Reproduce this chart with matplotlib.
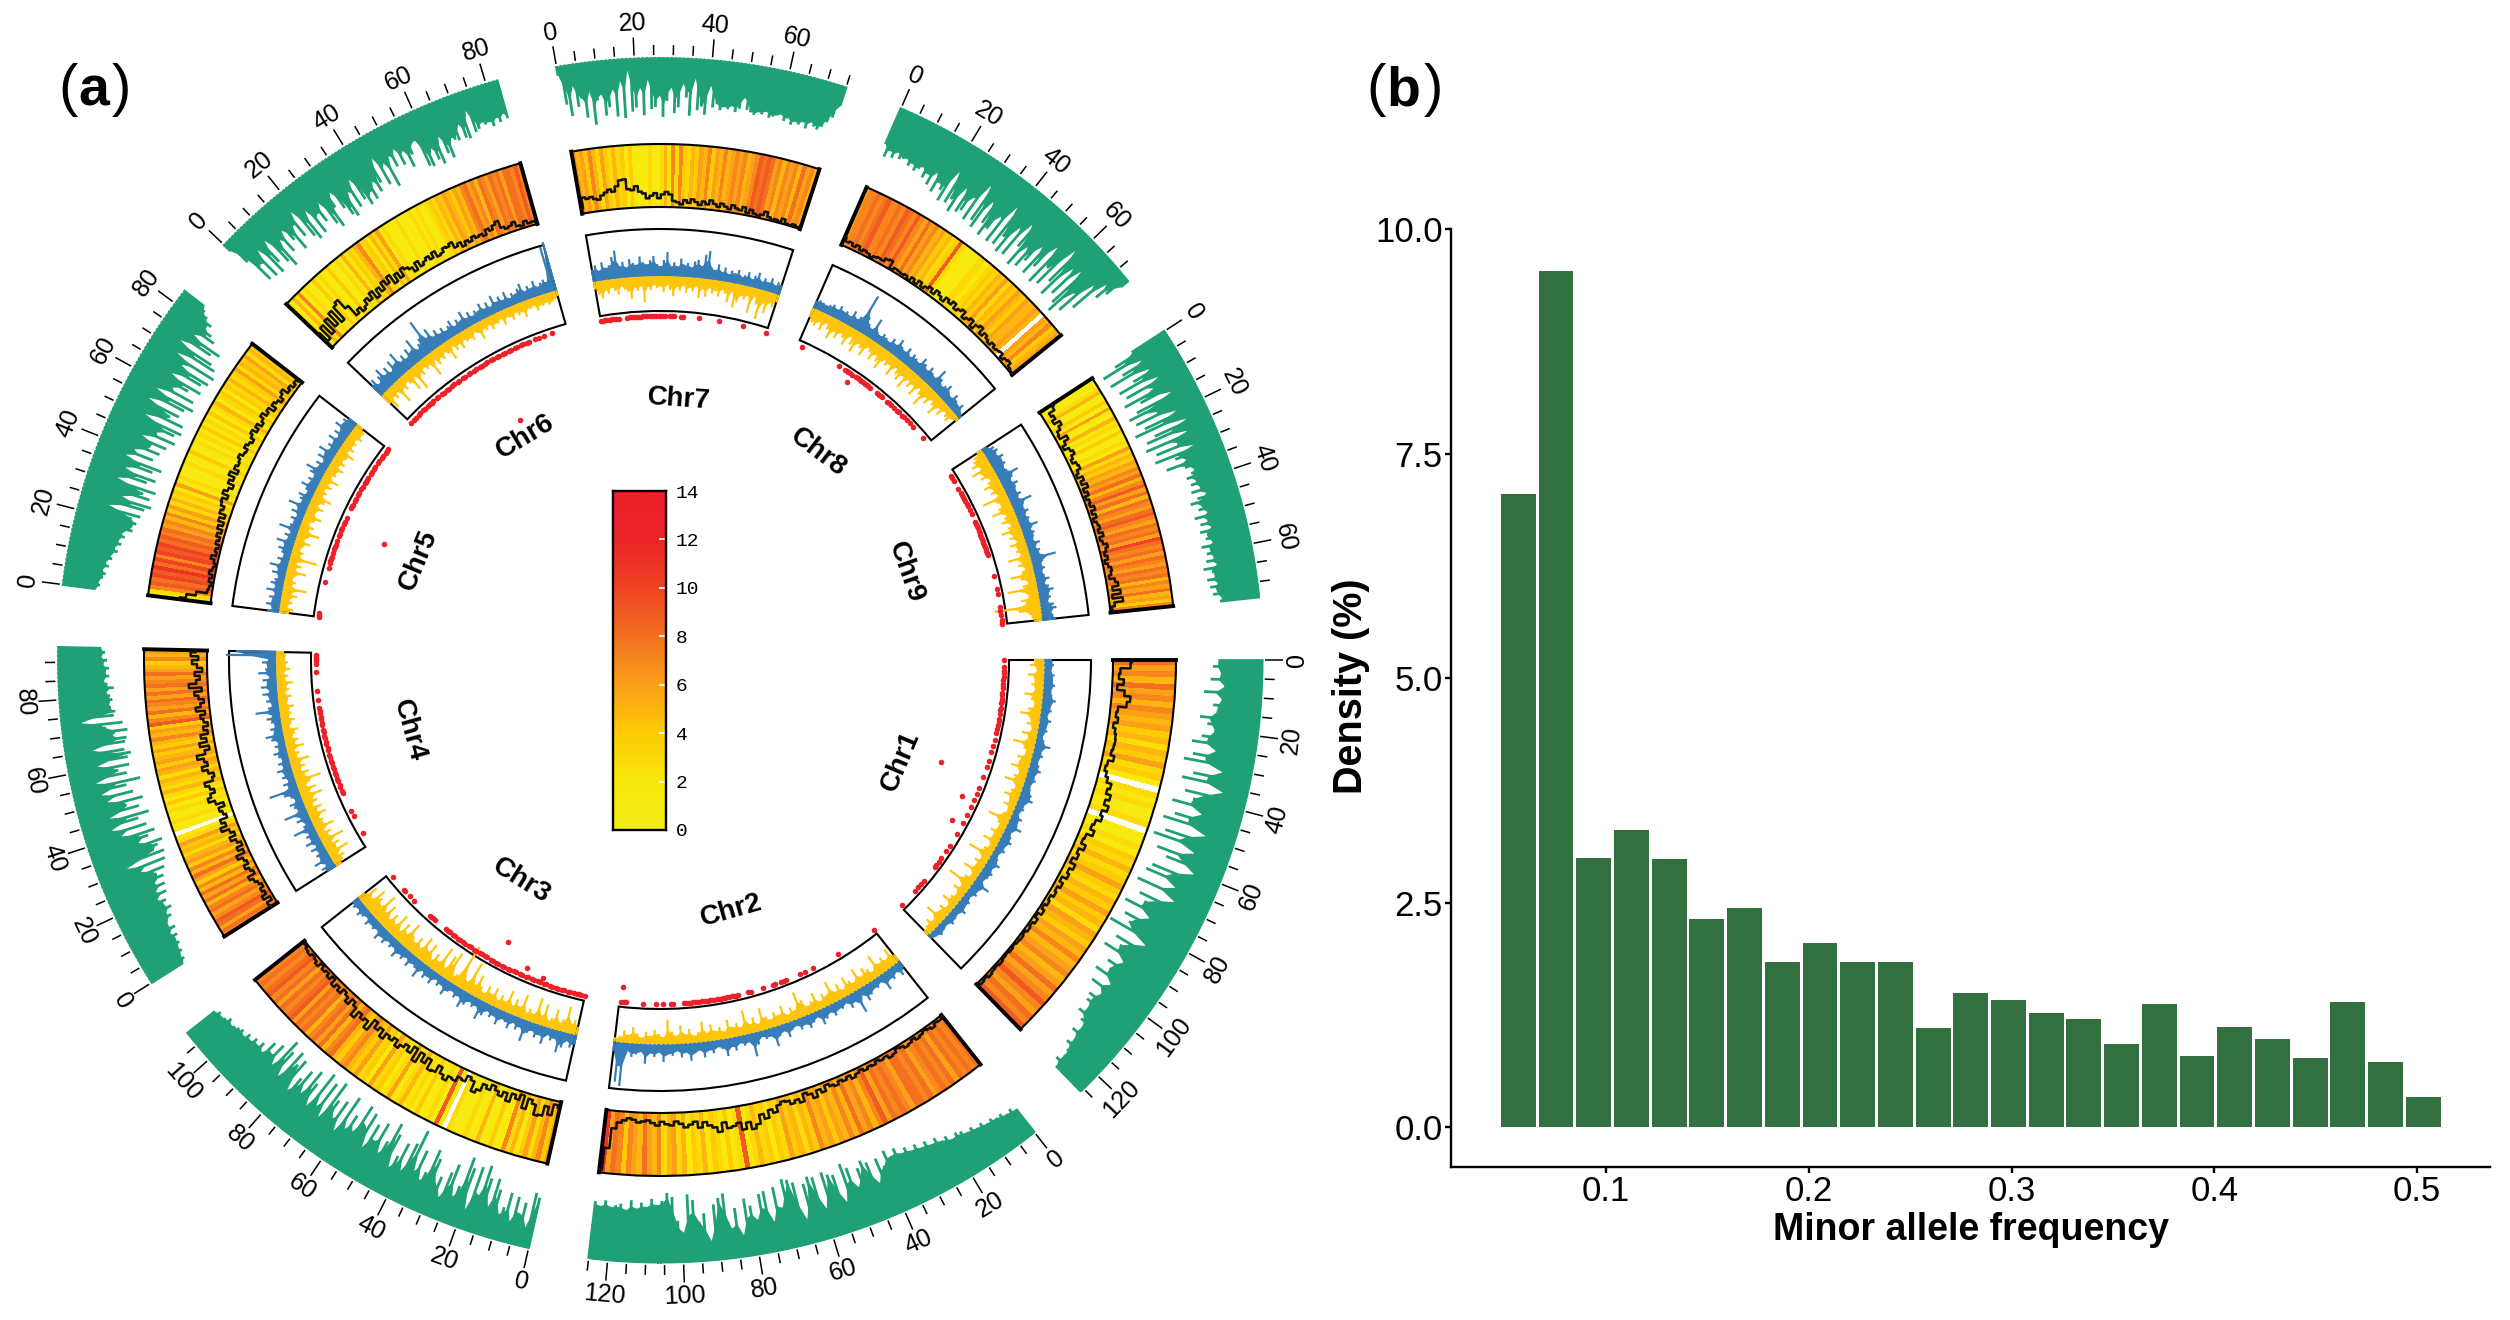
#!/usr/bin/env python3

import numpy as np
import matplotlib
matplotlib.use('Agg')
import matplotlib.pyplot as plt
from matplotlib.colors import LinearSegmentedColormap

plt.rcParams['font.family'] = ['Liberation Sans', 'DejaVu Sans']
nan = float('nan')

# panel (a): chromosomes, start / end angle (deg clockwise from 3 o'clock), length in Mb
chroms = ['Chr1', 'Chr2', 'Chr3', 'Chr4', 'Chr5', 'Chr6', 'Chr7', 'Chr8', 'Chr9']
start_deg = [0.0, 51.6, 102.6, 147.6, 187.2, 223.6, 260.1, 293.6, 326.9]
end_deg = [45.7, 96.8, 141.7, 181.2, 217.8, 254.3, 288.0, 321.0, 354.0]
chrom_len = [126, 125, 109, 94, 84, 83, 75, 74, 74]

# outer green track, depth of each window
green = [
    [45,50,42,52,38,58,40,48,44,60,52,44,56,65,40,62,70,30,58,68,25,62,52,72,40,66,76,30,70,80,35,72,60,28,70,74,40,78,35,70,62,80,50,74,66,84,40,70,62,76,50,64,58,70,48,66,50,60,58,52,58,50,44,50,42,46,40,38,42,36],
    [30,34,32,36,35,38,36,40,38,42,40,44,46,42,48,46,52,48,54,50,56,52,58,54,62,56,64,50,60,36,60,64,58,40,62,68,30,60,62,66,30,64,66,60,25,64,68,70,42,64,30,62,60,35,50,58,22,50,30,66,62,56,20,48,40,62,68,30,42,66,70,62,58,64,56,60,54,62,52,58,56,54,60,54,58],
    [52,56,20,44,32,48,22,50,34,26,50,60,30,58,70,38,66,20,62,72,40,28,60,50,22,42,34,58,66,40,30,60,36,78,62,30,58,42,28,62,72,50,35,66,44,60,32,68,52,72,40,56,38,72,30,62,40,58,76,32,70,40,76,34,58,70,40,64,52,34,68,60,72,38,66,76,42,64,50,60,44,52,46,50,44,48,42,46,44,42,40,44,40,38,40,36],
    [38,42,40,44,42,46,44,48,42,50,44,46,52,48,56,50,54,46,58,48,60,50,62,56,66,42,70,30,72,62,68,74,50,62,70,36,64,28,58,70,30,62,50,68,32,60,28,55,70,25,58,50,62,30,62,66,60,28,62,64,50,66,45,62,20,54,56,52,50,54,52,48,56,50,46,52,48,52,46,50,44,48,44],
    [34,38,36,40,42,38,44,40,46,44,50,46,52,48,54,50,60,58,62,56,64,30,66,72,40,68,60,72,30,60,68,34,62,70,30,58,36,62,50,66,38,72,50,68,74,32,72,56,64,28,66,74,30,70,44,60,72,36,68,74,40,76,30,72,66,26,60,68,34,56,50,40,44,36,30,26],
    [10,30,58,40,60,28,62,52,26,58,66,36,54,30,46,60,34,50,22,56,62,30,60,40,52,32,60,66,46,30,52,62,66,40,60,30,56,64,52,62,44,58,50,24,56,34,62,30,44,26,46,32,52,40,30,28,58,60,42,56,62,34,54,60,40,44,46,30,46,48,20,44,42,36,40,38,44,36,42,34,40],
    [10,40,52,22,44,36,56,30,64,40,34,56,48,30,58,22,60,12,54,50,30,58,22,52,50,38,60,44,30,56,50,26,40,58,20,52,48,56,26,48,44,50,46,48,44,50,46,34,46,48,50,46,48,44,50,48,46,44,50,46,52,48,50,46,52,44,48,50,46,40,34,20],
    [40,52,44,50,42,48,46,44,50,46,52,48,44,54,48,58,42,62,50,56,66,30,64,58,70,40,66,62,44,68,24,64,70,36,60,72,62,44,72,26,70,58,74,40,72,30,56,76,50,72,62,40,72,60,30,74,52,70,20,60,74,34,66,30,72,80,50,72,30,60,20,36,26,10],
    [40,62,78,36,60,76,34,54,72,30,68,40,74,58,26,66,76,48,72,30,66,78,24,60,70,28,74,42,66,28,70,50,40,62,44,36,40,46,38,44,36,46,32,42,50,40,44,36,50,38,46,36,48,42,44,38,50,42,46,40,48,38,52,44,42,50,40,48,42,46,38,40],
]

# heat track, value of each window on the 0-14 scale
heat = [
    [8,6,7,5,8,6,7,5,7,6,5,6,4,5,3,5,4,6,3,4,2,nan,3,2,3,1,2,3,nan,2,1,3,2,4,3,5,3,4,6,4,3,5,4,6,4,5,3,6,5,4,6,5,7,5,6,7,5,6,8,6,7,9,7,6,8,7,9],
    [8,7,8,7,8,6,8,7,8,7,6,8,7,8,8,6,7,8,7,8,6,9,7,5,7,6,8,5,7,5,6,4,6,5,7,4,5,3,5,4,6,3,4,2,4,3,5,3,2,9,3,2,4,2,3,4,2,5,3,4,2,5,3,6,5,3,7,5,6,8,5,6,7,4,7,8,6,11],
    [6,4,7,5,3,6,4,2,5,3,7,2,1,4,2,1,5,2,1,3,1,2,1,3,nan,2,9,1,3,2,1,4,2,3,2,5,3,2,6,3,2,4,3,6,2,4,3,6,4,5,7,6,4,5,8,7,5,8,6,8,7,5,8,7,8,6,9,8,7,8,6,8,7,9,8,7,8,7],
    [7,8,6,8,9,7,6,8,7,5,8,6,8,5,7,4,6,8,5,7,4,6,5,3,5,4,6,3,2,nan,2,1,3,2,2,3,2,4,2,3,5,3,4,5,3,5,6,4,6,5,4,6,4,5,7,5,6,4,9,7,5,8,6,7,8,6,8,6,8,7,6,8,6,5,4,7,5,6],
    [2,3,7,9,8,10,9,11,8,10,7,10,9,10,8,9,7,8,6,7,5,7,4,6,3,5,3,4,2,6,2,3,1,2,1,3,1,2,4,1,2,3,1,3,2,4,2,3,1,4,2,3,5,2,3,4,2,4,3,5,3,4,6,3,5,4,6,3,5,4],
    [3,1,5,2,7,1,3,2,1,4,1,3,2,1,4,2,1,3,1,5,2,4,3,5,7,3,4,2,5,3,6,2,3,1,2,1,3,1,2,1,3,2,3,1,2,3,4,3,5,4,6,5,4,6,5,7,8,6,7,5,8,7,6,8,7,8,6,8,8,7,9,7],
    [7,5,6,4,7,5,3,6,4,3,5,3,4,2,4,2,1,2,1,3,2,1,3,5,2,7,3,7,4,3,5,4,6,5,7,4,6,5,7,5,6,7,6,7,5,6,7,9,8,9,8,6,7,5,7,6,7,5,8,6,7,5],
    [6,7,7,8,7,8,9,7,7,8,7,9,8,7,9,7,6,8,6,7,5,6,4,5,3,4,9,3,2,1,2,1,3,3,2,3,4,3,5,4,6,3,5,4,6,5,4,6,5,5,6,5,nan,6,5,7,4,5,6],
    [1,2,1,3,5,1,2,4,1,6,2,1,5,2,3,1,4,2,1,3,2,6,3,5,4,6,5,7,6,8,5,7,9,6,8,5,8,7,6,8,9,7,6,8,7,8,6,10,8,7,8,6,8,7,6,8,7,8,5,7,6,8,5,6,4,7],
]

# black line over the heat track, percent of track height
heat_line = [
    [30,28,12,10,18,8,20,30,25,12,10,14,8,12,14,15,14,12,18,10,8,12,16,24,20,28,22,30,22,26,18,15,22,12,10,18,10,14,7,16,10,14,6,12,7,10,5,8,4,9,3,8,4,6,3,5,4,2,4,2,3,5,3,4,6,3,5,3],
    [3,5,4,8,5,3,6,8,4,7,9,5,3,8,10,5,7,4,8,6,9,5,8,12,6,10,7,12,9,5,14,8,18,10,6,18,12,16,10,8,12,22,16,28,20,34,40,28,38,26,30,32,22,36,28,24,18,26,16,20,24,18,14,20,18,14,20,16,12,14,16,12,10,14,18,28,60,95],
    [10,6,24,12,28,30,14,8,25,5,14,8,22,10,18,12,6,15,10,22,28,12,8,18,16,24,22,30,24,14,26,28,12,22,10,28,8,20,12,18,24,14,20,16,26,14,20,10,30,18,22,16,28,14,8,18,10,6,14,8,14,4,10,5,8,3,10,6,4,8,6,3,4],
    [12,14,5,16,8,12,6,10,14,20,8,12,18,10,14,22,8,16,6,12,20,10,16,28,18,24,12,16,20,10,22,32,26,18,24,30,16,12,20,28,18,22,32,18,10,24,12,20,8,14,6,12,16,8,22,14,8,16,22,10,30,18,12,20,8,16,24,14,26,18],
    [50,40,25,8,6,3,8,4,10,6,3,6,12,5,8,4,10,6,12,6,14,7,16,8,18,14,20,22,14,24,18,12,22,16,26,14,22,18,20,24,18,16,22,18,14,20,24,16,22,14,18,24,16,20,10,18,14,8,14,18,8,12,6,10,6],
    [30,12,35,15,38,20,42,18,44,48,30,10,16,8,12,20,14,24,10,22,14,26,18,28,12,24,14,26,22,18,10,22,12,16,20,14,22,12,14,20,18,22,12,16,8,14,10,16,12,14,10,18,14,20,24,12,8,10,14,6,4,10,5,6,4],
    [8,25,22,24,20,18,24,28,32,28,36,45,46,30,28,34,25,22,14,18,22,14,20,24,20,10,8,5,12,8,14,10,6,12,8,15,10,6,12,8,5,12,8,6,12,4,10,5,3,6,12,5,2,4,2,8,2,1,4,2,3],
    [14,8,10,6,10,5,8,6,3,6,8,7,12,14,2,6,5,4,6,2,8,3,10,4,8,12,6,14,10,6,14,10,16,8,12,16,6,10,14,4,12,16,6,12,8,5,10,6,8,10,4,8,10,4,2,1],
    [25,22,12,16,10,20,14,8,6,18,10,4,12,16,10,6,12,14,8,4,12,6,14,5,10,4,8,6,12,5,10,4,8,10,6,12,5,8,14,10,6,10,4,8,12,10,6,14,18,8,20,6,22,8,3,5],
]

# blue (outward) and yellow (inward) track
blue = [
    [8,10,7,11,9,12,8,10,14,9,11,7,12,8,10,6,9,16,8,11,7,10,13,8,11,7,9,12,15,8,10,6,12,9,16,7,10,13,8,11,6,9,14,8,12,10,7,18,9,11,6,10,8,13,7,9,11,6,8,10,7,5],
    [8,14,7,12,9,18,6,10,8,12,16,7,24,9,14,6,10,8,13,7,12,16,6,10,14,8,12,6,9,15,7,11,20,8,10,6,13,24,8,11,7,14,9,18,10,7,13,9,16,8,11,18,9,14,7,12,10,18,8,13,9,20,8,11,14,8,44,40,10],
    [10,14,8,16,22,9,12,7,18,10,14,8,12,22,9,13,7,15,10,8,16,9,12,7,14,20,8,11,7,13,18,8,12,7,10,16,8,11,6,14,9,13,7,18,10,8,14,7,12,9,16,8,11,7,13,9,15,7,10,8,12,6,9,12,7,10,8],
    [10,14,8,18,10,12,8,14,7,16,9,12,8,22,10,7,14,9,24,8,11,14,7,10,16,30,9,13,7,12,9,15,8,12,7,10,14,8,11,7,13,18,9,12,7,10,14,8,24,11,7,12,9,15,8,16,10,14,7,18,11,9,14,8,50,40],
    [12,8,14,9,12,7,16,8,13,10,7,14,9,18,8,12,7,10,14,9,18,8,12,7,20,10,8,12,7,14,9,20,8,11,14,7,10,16,9,12,8,14,20,9,13,7,15,10,18,8,12,9,16,8,14,10,18,12,14,10],
    [14,18,10,16,22,12,18,10,20,14,24,11,16,10,18,13,24,10,14,18,36,14,22,11,16,10,14,9,12,16,8,13,10,18,9,14,8,12,10,16,9,14,8,18,10,14,9,16,8,12,10,14,18,9,13,10,16,9,12,14,11,46,50],
    [12,16,10,18,12,14,22,28,12,16,10,18,14,12,20,14,12,16,20,12,10,16,24,10,14,10,18,12,14,10,16,18,12,24,28,12,10,16,9,14,8,12,10,14,8,10,14,8,12,16,8,12,9,14,8,12,10],
    [8,10,9,8,10,12,9,14,10,12,9,16,10,14,40,18,12,9,22,10,8,12,10,8,14,10,18,12,10,16,9,14,12,10,18,14,10,16,12,10,22,14,9,12,16,10,8,14,10,8,12,6,4],
    [6,12,14,10,16,12,14,10,12,22,14,10,16,12,10,14,9,22,12,10,14,9,12,10,18,9,12,10,8,14,8,12,10,26,12,9,12,8,10,14,8,12,16,10,12,8,14,16,10,12,14],
]
yellow = [
    [10,14,7,16,9,12,8,18,11,7,13,20,9,12,6,15,8,22,10,7,14,11,18,8,12,20,7,10,15,8,12,6,9,22,10,7,13,8,16,6,10,24,7,12,8,18,6,11,26,8,14,7,10,16,6,12,9,20,7,12,8,6],
    [8,18,9,14,10,22,7,12,16,9,20,8,12,18,7,15,9,22,10,13,7,18,11,8,16,26,9,13,7,18,10,14,8,12,22,7,15,9,24,8,13,10,18,7,12,9,16,8,20,10,7,14,9,18,8,12,24,7,10,14,8,12,6,10,16,8,12,6,4],
    [8,14,10,26,12,8,20,10,7,22,9,26,8,12,7,24,10,16,8,22,9,14,7,18,10,16,7,12,22,10,32,9,14,45,10,7,30,24,8,28,10,16,7,22,12,24,9,18,10,14,26,11,20,8,24,10,18,9,22,11,28,12,18,24,10,20,8],
    [7,10,14,8,22,10,16,8,24,9,14,7,20,10,12,8,18,9,16,7,14,10,22,9,18,8,14,26,10,16,8,14,9,20,8,12,7,18,9,14,8,12,16,7,10,14,8,12,9,15,8,10,14,7,12,9,16,8,12,7,14,9,12,8,10,8],
    [10,14,7,12,8,16,9,24,8,12,7,10,20,8,14,7,28,9,12,7,10,16,8,12,22,9,14,7,12,18,9,10,16,8,14,20,9,12,7,14,8,18,7,12,10,16,8,14,9,12,18,8,14,9,12,8,14,10,12,8],
    [12,20,9,14,8,24,10,14,7,12,22,8,26,10,14,7,12,9,24,8,16,10,14,8,12,20,7,14,9,16,8,12,10,14,7,10,18,8,12,7,14,9,11,7,15,8,10,14,7,12,9,16,8,10,7,14,9,11,8,12,10,8,6],
    [8,14,18,10,14,8,12,16,8,12,14,22,10,14,9,26,10,14,8,12,10,16,8,14,20,10,14,8,16,10,14,8,20,10,18,8,14,10,16,8,12,20,8,24,18,10,14,9,26,8,16,30,12,22,10,14,8],
    [10,14,16,10,18,8,14,22,12,18,10,14,20,8,16,22,10,14,20,8,12,18,10,16,22,9,14,10,20,8,14,18,10,22,9,16,10,20,8,14,24,10,16,8,12,20,8,14,6,10,12,6,4],
    [6,12,14,18,10,22,12,16,8,12,18,10,14,8,26,12,10,14,22,9,12,16,8,12,20,10,14,8,16,10,12,8,22,10,14,8,12,24,14,8,14,30,12,10,18,14,46,22,12,10,8],
]

# red points on the inner edge, position in Mb
red_pos = [
    [0,3,5,6,8,9,11,12,13,15,16,18,19,20,22,23,25,27,28,30,32,34,37,40,43,47,50,55,60,63,66,70,74,78,84,90,93,97,99,101,102,110,112,114,116,125],
    [0,20,33,37,40,47,48,49,52,53,58,64,65,70,71,72,73,74,75,76,77,78,79,80,81,82,83,84,85,86,87,88,89,90,91,92,93,94,95,100,101,105,108,114,122,123,124],
    [0,2,3,4,5,7,8,10,11,13,14,16,17,19,20,22,23,25,26,28,29,31,32,34,35,37,38,40,41,43,44,46,47,49,50,52,53,55,56,58,59,61,62,64,65,67,68,70,71,72,79,80,81,82,92,95,98,99,107],
    [6,15,18,27,28,30,31,33,34,36,37,39,40,42,43,45,46,48,49,51,52,54,55,57,58,60,61,63,64,66,67,68,72,76,85,89,90,91,92,93],
    [0,1,2,16,23,25,26,27,28,30,32,33,34,36,38,39,41,42,44,45,47,52,53,54,56,57,59,60,62,63,65,66,67,68,70,71,73,74,76,77,79,80,82,83,84],
    [0,2,3,5,6,8,9,11,12,13,14,16,17,19,20,22,23,25,26,28,29,31,32,34,35,37,38,40,41,43,44,46,47,49,50,52,53,55,56,58,59,61,62,64,65,68,70,72,76],
    [0,1,2,3,4,5,6,7,8,12,13,14,15,16,17,18,19,20,21,22,23,24,25,26,27,28,29,31,32,33,36,37,44,53,64,75],
    [2,21,24,25,26,27,28,30,31,32,33,34,35,36,37,38,42,43,44,45,48,49,50,52,54,55,57,58,60,62,64,71],
    [2,3,5,9,11,12,13,14,15,17,18,20,22,26,27,28,29,30,31,32,33,34,35,36,37,38,39,40,41,42,52,58,60,66,68,70,72,73,74],
]
# red outliers further in: chromosome index, Mb, radius
outlier_chr = [0, 0, 0, 2, 2, 2, 4, 5, 7, 1]
outlier_pos = [55, 67, 79, 44, 30, 21, 43, 44, 28, 124]
outlier_r = [299, 331, 333, 320, 336, 339, 299, 278, 335, 329]

# panel (b): minor allele frequency histogram
maf_bins = [0.0567,0.0753,0.0939,0.1125,0.1311,0.1497,0.1683,0.1869,0.2055,0.2241,0.2427,0.2613,0.2799,
            0.2985,0.3171,0.3357,0.3543,0.3729,0.3915,0.4101,0.4287,0.4473,0.4659,0.4845,0.5031]
density = [7.05,9.53,3.00,3.31,2.99,2.32,2.44,1.84,2.05,1.84,1.84,1.10,1.49,1.42,1.27,1.20,0.92,1.37,
           0.79,1.12,0.98,0.77,1.39,0.72,0.34]
x_ticks = [0.1, 0.2, 0.3, 0.4, 0.5]
y_ticks = [0.0, 2.5, 5.0, 7.5, 10.0]

GREEN = '#1fa077'
BLUE = '#377eb8'
YELLOW = '#ffc50a'
RED = '#ee2029'
W, H = 2510, 1320

heat_cmap = LinearSegmentedColormap.from_list('heat', [
    (0.0, '#f1ec18'), (2/14, '#f9e80a'), (4/14, '#ffcb05'), (6/14, '#fba019'),
    (8/14, '#f37021'), (10/14, '#ef4423'), (12/14, '#ee2428'), (1.0, '#ee2029')])
heat_cmap.set_bad('white')


def spikes(ax, theta, base, vals, sign, color, lw):
    # solid body up to the local minimum, thin bars up to each value
    vals = np.array(vals, dtype=float)
    body = np.minimum(np.minimum(np.r_[vals[0], vals[:-1]], vals), np.r_[vals[1:], vals[-1]])
    body = body + 0.45*(vals-body)
    ax.fill_between(theta, base, base+sign*body, color=color, lw=0)
    ax.vlines(theta, base, base+sign*vals, color=color, lw=lw, capstyle='butt')


fig = plt.figure(figsize=(W/100, H/100), dpi=100, facecolor='white')

ax = fig.add_axes([0, 0, 1320/W, 1], projection='polar')
ax.set_theta_zero_location('E')
ax.set_theta_direction(-1)
ax.set_rlim(0, 660)
ax.axis('off')

for i, name in enumerate(chroms):
    t0, t1 = np.radians(start_deg[i]), np.radians(end_deg[i])
    mid = (t0+t1)/2
    mb = lambda p: t0 + (t1-t0)*np.asarray(p, dtype=float)/chrom_len[i]

    # green track
    spikes(ax, np.linspace(t0, t1, len(green[i])), 603, green[i], -1, GREEN, 2.0)

    # axis ticks outside of it
    for p in range(0, chrom_len[i]+1, 5):
        major = p % 20 == 0
        ax.plot([mb(p), mb(p)], [605, 623 if major else 615], color='k', lw=1.1, solid_capstyle='butt')
        if major:
            deg = np.degrees(mb(p))
            rot = 90-deg if deg < 180 else 270-deg
            ax.text(mb(p), 637, str(p), rotation=rot, rotation_mode='anchor',
                    ha='center', va='center', fontsize=18, color='k')

    # heat track
    edges = np.linspace(t0, t1, len(heat[i])+1)
    ax.pcolormesh(edges, [453, 516], np.array([heat[i]], dtype=float), cmap=heat_cmap, vmin=0, vmax=14,
                  shading='flat', antialiased=False)
    ax.bar(mid, 63, width=t1-t0, bottom=453, fill=False, edgecolor='k', lw=1.5)
    ax.plot([t0, t0], [453, 516], color='k', lw=2.8, solid_capstyle='projecting')
    ax.plot([t1, t1], [453, 516], color='k', lw=2.8, solid_capstyle='projecting')
    t = np.linspace(t0, t1, len(heat_line[i]))
    ax.plot(t, 453+0.63*np.array(heat_line[i]), color='#111111', lw=1.8, drawstyle='steps-mid')

    # blue / yellow track
    spikes(ax, np.linspace(t0, t1, len(blue[i])), 384, blue[i], 1, BLUE, 1.6)
    spikes(ax, np.linspace(t0, t1, len(yellow[i])), 384, yellow[i], -1, YELLOW, 1.6)
    ax.bar(mid, 82, width=t1-t0, bottom=349, fill=False, edgecolor='k', lw=1.5)

    # red points
    ax.scatter(mb(red_pos[i]), np.full(len(red_pos[i]), 344), s=16, color=RED, lw=0, zorder=3)

    deg = np.degrees(mid)
    rot = 90-deg if deg < 180 else 270-deg
    ax.text(mid, 261, name, rotation=rot, rotation_mode='anchor', ha='center', va='center',
            fontsize=20, fontweight='bold', color='k')

for c, p, r in zip(outlier_chr, outlier_pos, outlier_r):
    th = np.radians(start_deg[c] + (end_deg[c]-start_deg[c])*p/chrom_len[c])
    ax.scatter([th], [r], s=16, color=RED, lw=0, zorder=3)

# colour scale in the middle
cax = fig.add_axes([613/W, 1-830/H, 53/W, 339/H])
cax.imshow(np.linspace(0, 14, 256)[:, None], origin='lower', aspect='auto', extent=[0, 1, 0, 14],
           cmap=heat_cmap, vmin=0, vmax=14)
cax.set_xticks([])
cax.set_yticks(range(0, 15, 2))
cax.yaxis.tick_right()
cax.tick_params(axis='y', direction='in', color='white', length=5, width=1.3, pad=7,
                labelsize=14, labelfontfamily='Liberation Mono')
for s in cax.spines.values():
    s.set_linewidth(1.7)

# panel (b)
bx = fig.add_axes([1451/W, 1-1167/H, (2490-1451)/W, (1167-229)/H])
bx.bar(maf_bins, density, width=0.0172, color='#327040')
bx.set_xlim(0.0235, 0.536)
bx.set_ylim(-0.444, 10)
bx.set_xticks(x_ticks)
bx.set_xticklabels(['%.1f' % v for v in x_ticks])
bx.set_yticks(y_ticks)
bx.set_yticklabels(['%.1f' % v for v in y_ticks])
bx.tick_params(labelsize=25, length=4, width=1.7, pad=2)
bx.spines['top'].set_visible(False)
bx.spines['right'].set_visible(False)
bx.spines['left'].set_linewidth(1.7)
bx.spines['bottom'].set_linewidth(1.7)
fig.text(1971/W, 1-1230/H, 'Minor allele frequency', fontsize=27, fontweight='bold', ha='center', va='center')
fig.text(1351/W, 1-686/H, 'Density (%)', fontsize=28.5, fontweight='bold', rotation=90, ha='center', va='center')

# panel letters
for left, letter, mid_x, right in [(58, 'a', 94, 131), (1366, 'b', 1403, 1443)]:
    fig.text(left/W, 1-105/H, '(', fontsize=42, ha='left', va='baseline')
    fig.text(mid_x/W, 1-105/H, letter, fontsize=40, fontweight='bold', ha='center', va='baseline')
    fig.text(right/W, 1-105/H, ')', fontsize=42, ha='right', va='baseline')

fig.savefig('out.png', dpi=100)
